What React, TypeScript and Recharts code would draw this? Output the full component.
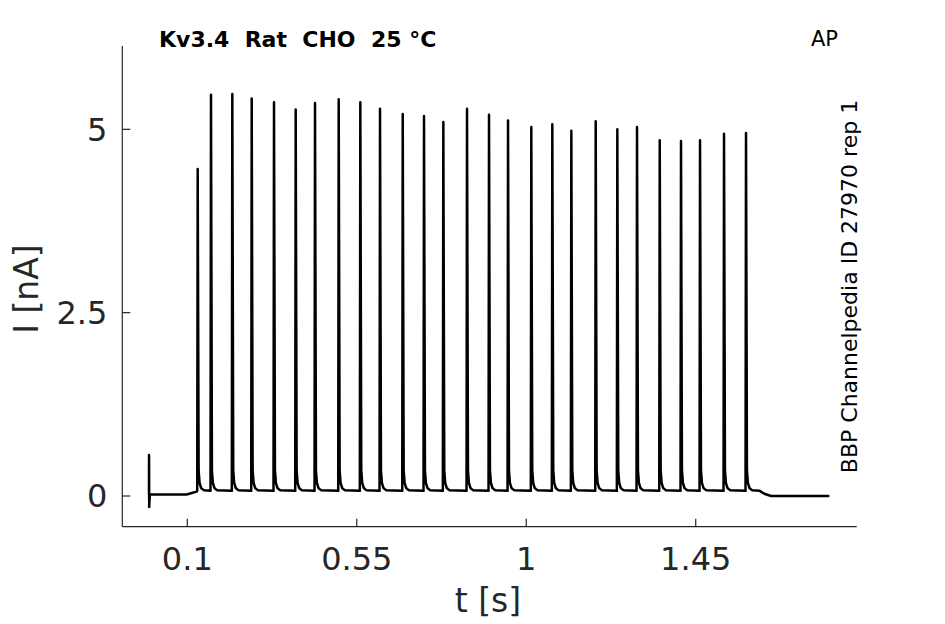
import React from "react";
import { LineChart, Line, XAxis, YAxis } from "recharts";

// Spike times (s) and peak currents (nA)
const spikeTimes = [
  0.1276, 0.1629, 0.2195, 0.271, 0.3302, 0.3878, 0.4391, 0.502, 0.5594,
  0.6117, 0.672, 0.7285, 0.7798, 0.8427, 0.9011, 0.9516, 1.0134, 1.0692,
  1.1197, 1.1844, 1.2418, 1.2941, 1.3544, 1.4109, 1.4614, 1.5251, 1.5835,
];
const spikePeaks = [
  4.46, 5.47, 5.48, 5.42, 5.37, 5.27, 5.36, 5.41, 5.37, 5.28, 5.21, 5.18,
  5.1, 5.28, 5.2, 5.12, 5.03, 5.07, 4.98, 5.11, 5.0, 5.03, 4.85, 4.84, 4.85,
  4.94, 4.95,
];
// shape of each spike: time offsets (s) around the peak and current (nA); null = peak
const spikeOffsets = [-0.0013, 0, 0.0025, 0.005, 0.009, 0.016];
const spikeShape: (number | null)[] = [0.07, null, 0.35, 0.18, 0.11, 0.08];

// baseline before the pulse train (incl. the capacitive artifact) and after it
const preTimes = [-0.0018, -0.0016, -0.0012, 0.0005, 0.098, 0.112, 0.125];
const preValues = [0.02, 0.56, -0.15, 0.02, 0.02, 0.04, 0.06];
const postTimes = [1.62, 1.632, 1.65, 1.8047];
const postValues = [0.07, 0.03, 0.0, 0.0];

const xTicks = [0.1, 0.55, 1, 1.45];
const yTicks = [0, 2.5, 5];

const trace: { t: number; i: number }[] = [];
preTimes.forEach((t, k) => trace.push({ t, i: preValues[k] }));
spikeTimes.forEach((st, k) => {
  spikeOffsets.forEach((off, j) => {
    const v = spikeShape[j];
    trace.push({ t: st + off, i: v === null ? spikePeaks[k] : v });
  });
});
postTimes.forEach((t, k) => trace.push({ t, i: postValues[k] }));

const FONT = "DejaVu Sans";
const AX = "#262626";

export default function App() {
  return (
    <div style={{ position: "absolute", left: 0, top: 0, width: 945, height: 624, background: "#fff" }}>
      <LineChart
        width={945}
        height={624}
        data={trace}
        margin={{ top: 46, right: 88.3, bottom: 67.3, left: 62.3 }}
      >
        <XAxis
          dataKey="t"
          type="number"
          domain={[-0.0726, 1.8774]}
          ticks={xTicks}
          allowDataOverflow
          height={30}
          tickSize={-8}
          tickMargin={29}
          stroke={AX}
          strokeWidth={1.2}
          tick={{ fill: AX, fontSize: 32, fontFamily: FONT }}
          tickFormatter={(v: number) => String(v)}
        />
        <YAxis
          type="number"
          domain={[-0.4186, 6.136]}
          ticks={yTicks}
          allowDataOverflow
          width={60}
          tickSize={-8}
          tickMargin={23}
          stroke={AX}
          strokeWidth={1.2}
          tick={{ fill: AX, fontSize: 32, fontFamily: FONT }}
          tickFormatter={(v: number) => String(v)}
        />
        <Line
          dataKey="i"
          type="linear"
          stroke="#000"
          strokeWidth={2.5}
          dot={false}
          isAnimationActive={false}
          strokeLinejoin="round"
        />
      </LineChart>
      <svg
        width={945}
        height={624}
        style={{ position: "absolute", left: 0, top: 0, pointerEvents: "none" }}
        fontFamily={FONT}
      >
        <text x={488} y={612} textAnchor="middle" fontSize={33} fill={AX}>
          t [s]
        </text>
        <text
          x={0}
          y={0}
          transform="translate(38,289) rotate(-90)"
          textAnchor="middle"
          fontSize={33}
          fill={AX}
        >
          I [nA]
        </text>
        <text x={159} y={46.5} fontSize={22} fontWeight="bold" fill="#000" style={{ whiteSpace: "pre" }}>
          {"Kv3.4  Rat  CHO  25 °C"}
        </text>
        <text x={811} y={46} fontSize={21} fill="#000">
          AP
        </text>
        <text
          x={0}
          y={0}
          transform="translate(857,286.5) rotate(-90)"
          textAnchor="middle"
          fontSize={22}
          fill="#000"
        >
          BBP Channelpedia ID 27970 rep 1
        </text>
      </svg>
    </div>
  );
}
